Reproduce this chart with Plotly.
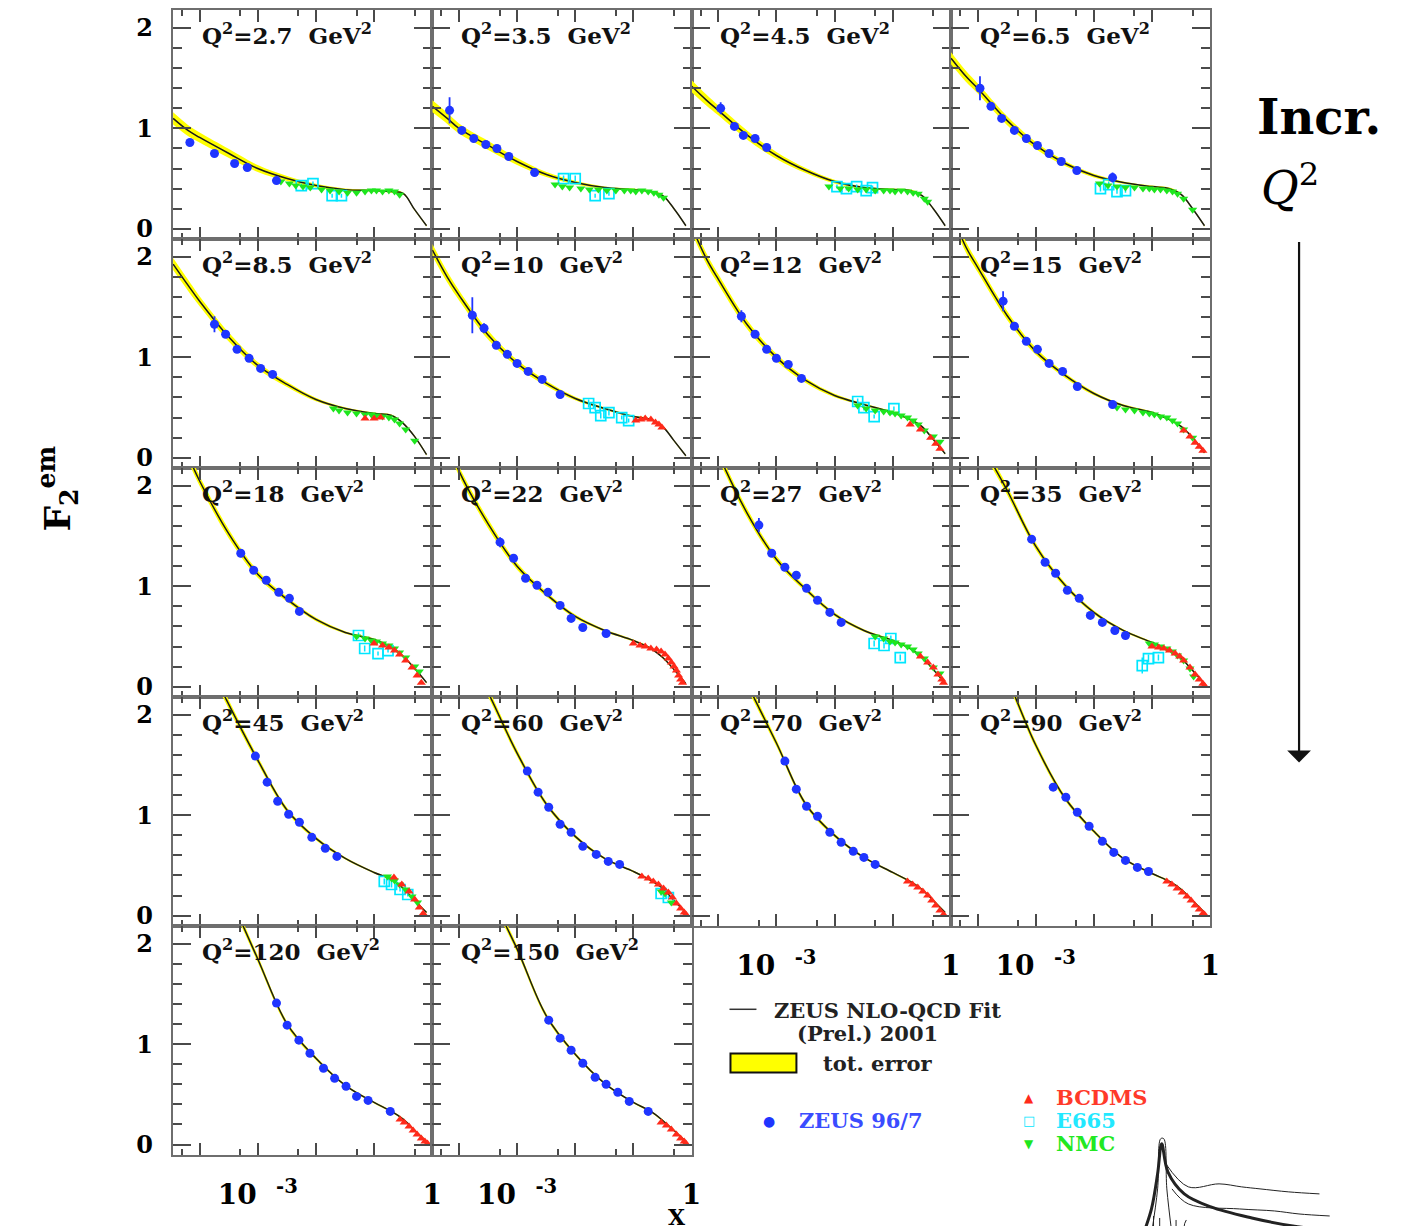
import plotly.graph_objects as go

# ---------------------------------------------------------------------------
# F2 structure-function data, one entry per Q^2 bin (GeV^2)
# ---------------------------------------------------------------------------
Q2_VALUES = ["2.7", "3.5", "4.5", "6.5", "8.5", "10", "12", "15", "18",
             "22", "27", "35", "45", "60", "70", "90", "120", "150"]

# x nodes at which the NLO-QCD fit is tabulated
FIT_X = [3.5e-5, 6.3e-5, 1e-4, 3.2e-4, 1e-3, 3.2e-3, 0.01, 0.032, 0.1, 0.2, 0.32, 0.5, 0.8]
# half-width of the total-error band at those nodes
FIT_ERR = [0.06, 0.055, 0.05, 0.045, 0.035, 0.025, 0.018, 0.012, 0.01, 0.01, 0.01, 0.01, 0.01]

FIT_F2 = [
    [1.10, 0.98, 0.91, 0.75, 0.60, 0.50, 0.43, 0.39, 0.38, 0.37, 0.35, 0.19, 0.03],
    [1.22, 1.10, 1.00, 0.83, 0.67, 0.54, 0.46, 0.41, 0.39, 0.37, 0.33, 0.20, 0.03],
    [1.42, 1.28, 1.18, 0.93, 0.73, 0.58, 0.47, 0.41, 0.39, 0.38, 0.33, 0.20, 0.03],
    [1.70, 1.52, 1.40, 1.08, 0.83, 0.65, 0.53, 0.46, 0.42, 0.40, 0.34, 0.20, 0.03],
    [1.93, 1.72, 1.56, 1.20, 0.92, 0.73, 0.58, 0.49, 0.44, 0.42, 0.34, 0.21, 0.03],
    [2.07, 1.80, 1.62, 1.22, 0.94, 0.74, 0.59, 0.49, 0.41, 0.38, 0.31, 0.17, 0.02],
    [2.30, 1.98, 1.78, 1.32, 1.00, 0.77, 0.62, 0.53, 0.45, 0.38, 0.31, 0.18, 0.04],
    [2.45, 2.10, 1.90, 1.42, 1.06, 0.82, 0.64, 0.52, 0.45, 0.38, 0.31, 0.20, 0.05],
    [2.60, 2.30, 2.05, 1.52, 1.12, 0.87, 0.67, 0.54, 0.47, 0.39, 0.30, 0.18, 0.04],
    [2.85, 2.45, 2.15, 1.62, 1.20, 0.92, 0.70, 0.56, 0.46, 0.38, 0.29, 0.17, 0.03],
    [3.00, 2.60, 2.32, 1.72, 1.27, 0.97, 0.72, 0.56, 0.46, 0.38, 0.29, 0.17, 0.03],
    [3.20, 2.80, 2.50, 1.96, 1.40, 1.01, 0.74, 0.56, 0.44, 0.36, 0.28, 0.16, 0.03],
    [3.40, 3.00, 2.70, 2.10, 1.55, 1.05, 0.77, 0.57, 0.43, 0.36, 0.27, 0.15, 0.03],
    [3.50, 3.10, 2.80, 2.22, 1.62, 1.11, 0.79, 0.57, 0.44, 0.35, 0.27, 0.15, 0.03],
    [3.60, 3.20, 2.90, 2.30, 1.72, 1.11, 0.80, 0.58, 0.43, 0.34, 0.26, 0.15, 0.03],
    [3.80, 3.40, 3.05, 2.38, 1.70, 1.17, 0.84, 0.57, 0.42, 0.34, 0.26, 0.15, 0.03],
    [4.00, 3.55, 3.20, 2.50, 1.85, 1.20, 0.86, 0.59, 0.42, 0.33, 0.25, 0.14, 0.03],
    [4.10, 3.65, 3.30, 2.55, 1.95, 1.28, 0.90, 0.61, 0.42, 0.33, 0.24, 0.14, 0.03],
]

# ZEUS 96/97
ZEUS_X = [
    [6.8e-5, 1.8e-4, 4.0e-4, 6.6e-4, 2.1e-3],
    [6.9e-5, 1.12e-4, 1.8e-4, 2.9e-4, 4.5e-4, 7.2e-4, 2.0e-3],
    [1.1e-4, 1.9e-4, 2.7e-4, 4.3e-4, 6.8e-4],
    [1.1e-4, 1.7e-4, 2.6e-4, 4.3e-4, 6.9e-4, 1.07e-3, 1.7e-3, 2.75e-3, 5.1e-3, 2.1e-2],
    [1.8e-4, 2.8e-4, 4.4e-4, 7.1e-4, 1.12e-3, 1.8e-3],
    [1.7e-4, 2.7e-4, 4.4e-4, 6.8e-4, 1.0e-3, 1.55e-3, 2.7e-3, 5.5e-3],
    [2.5e-4, 4.3e-4, 6.8e-4, 1.0e-3, 1.6e-3, 2.7e-3],
    [2.75e-4, 4.3e-4, 6.9e-4, 1.07e-3, 1.7e-3, 2.9e-3, 5.2e-3, 2.1e-2],
    [5.1e-4, 8.5e-4, 1.4e-3, 2.3e-3, 3.5e-3, 5.2e-3],
    [5.1e-4, 8.7e-4, 1.4e-3, 2.2e-3, 3.4e-3, 5.5e-3, 8.5e-3, 1.35e-2, 3.4e-2],
    [5.0e-4, 8.3e-4, 1.4e-3, 2.2e-3, 3.3e-3, 5.1e-3, 8.3e-3, 1.3e-2],
    [8.5e-4, 1.45e-3, 2.2e-3, 3.5e-3, 5.6e-3, 8.7e-3, 1.4e-2, 2.3e-2, 3.5e-2],
    [9.1e-4, 1.45e-3, 2.2e-3, 3.4e-3, 5.2e-3, 8.5e-3, 1.45e-2, 2.3e-2],
    [1.5e-3, 2.3e-3, 3.5e-3, 5.5e-3, 8.5e-3, 1.35e-2, 2.3e-2, 3.7e-2, 5.8e-2],
    [1.4e-3, 2.2e-3, 3.3e-3, 5.1e-3, 8.3e-3, 1.3e-2, 2.1e-2, 3.2e-2, 5.0e-2],
    [2.0e-3, 3.3e-3, 5.2e-3, 8.3e-3, 1.4e-2, 2.2e-2, 3.5e-2, 5.6e-2, 8.7e-2],
    [2.1e-3, 3.2e-3, 5.1e-3, 7.9e-3, 1.35e-2, 2.1e-2, 3.3e-2, 5.0e-2, 7.9e-2, 0.19],
    [3.5e-3, 5.5e-3, 8.5e-3, 1.35e-2, 2.2e-2, 3.4e-2, 5.4e-2, 8.5e-2, 0.18],
]
ZEUS_F2 = [
    [0.86, 0.75, 0.65, 0.61, 0.48],
    [1.18, 0.98, 0.90, 0.84, 0.80, 0.72, 0.56],
    [1.20, 1.02, 0.93, 0.90, 0.81],
    [1.40, 1.22, 1.10, 0.98, 0.90, 0.83, 0.75, 0.67, 0.58, 0.51],
    [1.33, 1.23, 1.08, 0.99, 0.89, 0.83],
    [1.42, 1.29, 1.12, 1.03, 0.94, 0.86, 0.78, 0.63],
    [1.41, 1.23, 1.08, 0.99, 0.93, 0.79],
    [1.56, 1.31, 1.16, 1.08, 0.94, 0.86, 0.71, 0.53],
    [1.33, 1.16, 1.06, 0.94, 0.88, 0.75],
    [1.44, 1.28, 1.08, 1.01, 0.94, 0.81, 0.68, 0.59, 0.53],
    [1.61, 1.33, 1.19, 1.11, 0.98, 0.86, 0.74, 0.64],
    [1.47, 1.24, 1.13, 0.96, 0.88, 0.71, 0.64, 0.56, 0.51],
    [1.59, 1.33, 1.14, 1.01, 0.93, 0.78, 0.67, 0.59],
    [1.44, 1.23, 1.08, 0.91, 0.83, 0.69, 0.61, 0.54, 0.51],
    [1.54, 1.26, 1.09, 0.99, 0.83, 0.73, 0.64, 0.58, 0.51],
    [1.28, 1.18, 1.03, 0.89, 0.74, 0.63, 0.55, 0.48, 0.44],
    [1.41, 1.19, 1.04, 0.91, 0.76, 0.66, 0.58, 0.48, 0.44, 0.33],
    [1.24, 1.06, 0.94, 0.81, 0.67, 0.60, 0.52, 0.43, 0.33],
]
ZEUS_ERR = [
    [0.03, 0.03, 0.03, 0.03, 0.03],
    [0.13, 0.03, 0.03, 0.03, 0.03, 0.03, 0.03],
    [0.06, 0.03, 0.03, 0.03, 0.03],
    [0.12, 0.04, 0.03, 0.03, 0.03, 0.03, 0.03, 0.03, 0.03, 0.05],
    [0.08, 0.03, 0.03, 0.03, 0.03, 0.03],
    [0.18, 0.05, 0.03, 0.03, 0.03, 0.03, 0.03, 0.03],
    [0.06, 0.03, 0.03, 0.03, 0.03, 0.03],
    [0.10, 0.03, 0.03, 0.03, 0.03, 0.03, 0.03, 0.03],
    [0.04, 0.03, 0.03, 0.03, 0.03, 0.03],
    [0.05, 0.03, 0.03, 0.03, 0.03, 0.03, 0.03, 0.03, 0.03],
    [0.07, 0.03, 0.03, 0.03, 0.03, 0.03, 0.03, 0.03],
    [0.04, 0.03, 0.03, 0.03, 0.03, 0.03, 0.03, 0.03, 0.03],
    [0.04, 0.03, 0.03, 0.03, 0.03, 0.03, 0.03, 0.03],
    [0.03, 0.03, 0.03, 0.03, 0.03, 0.03, 0.03, 0.03, 0.03],
    [0.03, 0.03, 0.03, 0.03, 0.03, 0.03, 0.03, 0.03, 0.03],
    [0.03, 0.03, 0.03, 0.03, 0.03, 0.03, 0.03, 0.03, 0.03],
    [0.03, 0.03, 0.03, 0.03, 0.03, 0.03, 0.03, 0.03, 0.03, 0.03],
    [0.03, 0.03, 0.03, 0.03, 0.03, 0.03, 0.03, 0.03, 0.03],
]

# NMC
NMC_X = [
    [0.0025, 0.0035, 0.0045, 0.006, 0.008, 0.0125, 0.0175, 0.025, 0.035, 0.05, 0.07, 0.09, 0.11, 0.14, 0.18, 0.225, 0.275],
    [0.0045, 0.006, 0.008, 0.0125, 0.0175, 0.025, 0.035, 0.05, 0.07, 0.09, 0.11, 0.14, 0.18, 0.225, 0.275, 0.33],
    [0.008, 0.0125, 0.0175, 0.025, 0.035, 0.05, 0.07, 0.09, 0.11, 0.14, 0.18, 0.225, 0.275, 0.35, 0.4],
    [0.0125, 0.0175, 0.025, 0.035, 0.05, 0.07, 0.09, 0.11, 0.14, 0.18, 0.225, 0.275, 0.35, 0.5],
    [0.02, 0.025, 0.035, 0.05, 0.07, 0.09, 0.11, 0.14, 0.18, 0.225, 0.275, 0.35, 0.5],
    [],
    [0.025, 0.035, 0.05, 0.07, 0.09, 0.11, 0.14, 0.18, 0.225, 0.275, 0.35, 0.5, 0.65],
    [0.025, 0.035, 0.05, 0.07, 0.09, 0.11, 0.14, 0.18, 0.225, 0.275, 0.35, 0.5],
    [0.05, 0.07, 0.09, 0.11, 0.14, 0.18, 0.225, 0.275, 0.35, 0.5, 0.6],
    [],
    [0.05, 0.07, 0.09, 0.11, 0.14, 0.18, 0.225, 0.275, 0.35, 0.5, 0.65],
    [0.09, 0.11, 0.14, 0.18, 0.225, 0.275, 0.35, 0.45, 0.52],
    [0.17, 0.2, 0.225, 0.275, 0.35, 0.45, 0.56],
    [0.3, 0.35, 0.45],
    [], [], [], [],
]
NMC_F2 = [
    [0.47, 0.45, 0.43, 0.42, 0.41, 0.39, 0.38, 0.37, 0.36, 0.36, 0.37, 0.38, 0.38, 0.37, 0.38, 0.37, 0.34],
    [0.44, 0.42, 0.41, 0.40, 0.39, 0.39, 0.38, 0.38, 0.38, 0.38, 0.37, 0.38, 0.37, 0.36, 0.34, 0.31],
    [0.42, 0.40, 0.40, 0.39, 0.39, 0.38, 0.38, 0.38, 0.37, 0.38, 0.37, 0.36, 0.35, 0.30, 0.27],
    [0.45, 0.43, 0.42, 0.41, 0.41, 0.40, 0.40, 0.39, 0.39, 0.38, 0.37, 0.35, 0.30, 0.19],
    [0.49, 0.47, 0.45, 0.44, 0.43, 0.43, 0.42, 0.41, 0.40, 0.38, 0.34, 0.28, 0.17],
    [],
    [0.52, 0.49, 0.47, 0.46, 0.45, 0.44, 0.42, 0.40, 0.37, 0.33, 0.27, 0.21, 0.16],
    [0.50, 0.48, 0.47, 0.45, 0.44, 0.43, 0.41, 0.40, 0.37, 0.34, 0.28, 0.20],
    [0.50, 0.48, 0.46, 0.45, 0.43, 0.41, 0.38, 0.34, 0.29, 0.20, 0.15],
    [],
    [0.50, 0.48, 0.45, 0.44, 0.42, 0.40, 0.37, 0.33, 0.28, 0.19, 0.13],
    [0.43, 0.42, 0.40, 0.38, 0.35, 0.31, 0.26, 0.18, 0.10],
    [0.39, 0.37, 0.35, 0.31, 0.26, 0.19, 0.13],
    [0.24, 0.22, 0.13],
    [], [], [], [],
]

# E665
E665_X = [
    [0.0056, 0.0089, 0.019, 0.0275],
    [0.0063, 0.010, 0.022, 0.038],
    [0.011, 0.016, 0.024, 0.035, 0.045],
    [0.013, 0.018, 0.025, 0.035],
    [],
    [0.017, 0.022, 0.0275, 0.038, 0.063, 0.083],
    [0.025, 0.032, 0.048, 0.105],
    [],
    [0.054, 0.069, 0.117, 0.174],
    [],
    [0.048, 0.071, 0.093, 0.135],
    [0.068, 0.087, 0.129],
    [0.15, 0.2, 0.28, 0.38],
    [0.3, 0.4],
    [], [], [], [],
]
E665_F2 = [
    [0.43, 0.45, 0.33, 0.33],
    [0.50, 0.50, 0.33, 0.35],
    [0.42, 0.40, 0.42, 0.38, 0.41],
    [0.40, 0.44, 0.37, 0.38],
    [],
    [0.54, 0.50, 0.42, 0.45, 0.40, 0.37],
    [0.56, 0.50, 0.41, 0.49],
    [],
    [0.51, 0.38, 0.33, 0.36],
    [],
    [0.43, 0.41, 0.48, 0.29],
    [0.21, 0.28, 0.29],
    [0.34, 0.31, 0.26, 0.21],
    [0.22, 0.18],
    [], [], [], [],
]
E665_ERR = [
    [0.02, 0.02, 0.02, 0.02],
    [0.03, 0.03, 0.02, 0.02],
    [0.02, 0.02, 0.02, 0.02, 0.02],
    [0.03, 0.03, 0.02, 0.02],
    [],
    [0.04, 0.03, 0.03, 0.03, 0.02, 0.02],
    [0.03, 0.03, 0.02, 0.02],
    [],
    [0.03, 0.03, 0.02, 0.02],
    [],
    [0.03, 0.03, 0.03, 0.03],
    [0.08, 0.04, 0.03],
    [0.03, 0.03, 0.02, 0.02],
    [0.02, 0.02],
    [], [], [], [],
]

# BCDMS
BCDMS_X = [
    [], [], [], [],
    [0.07, 0.1, 0.13],
    [0.11, 0.135, 0.16, 0.2, 0.24, 0.275, 0.31],
    [0.2, 0.3, 0.45, 0.55, 0.65],
    [0.35, 0.45, 0.55, 0.65, 0.75],
    [0.1, 0.14, 0.18, 0.225, 0.275, 0.35, 0.45, 0.55, 0.65],
    [0.1, 0.13, 0.16, 0.2, 0.25, 0.3, 0.35, 0.4, 0.45, 0.5, 0.55, 0.6, 0.65, 0.7],
    [0.3, 0.4, 0.5, 0.6, 0.7, 0.75],
    [0.1, 0.13, 0.16, 0.2, 0.25, 0.3, 0.35, 0.45, 0.55, 0.65, 0.75, 0.8],
    [0.22, 0.3, 0.4, 0.5, 0.6, 0.7],
    [0.14, 0.18, 0.22, 0.27, 0.33, 0.4, 0.47, 0.55, 0.65, 0.75, 0.8],
    [0.18, 0.22, 0.27, 0.33, 0.4, 0.47, 0.55, 0.65, 0.75],
    [0.18, 0.22, 0.27, 0.33, 0.4, 0.47, 0.55, 0.65, 0.75, 0.8],
    [0.28, 0.33, 0.4, 0.47, 0.55, 0.65, 0.75, 0.83],
    [0.3, 0.37, 0.45, 0.55, 0.65, 0.75, 0.8],
]
BCDMS_F2 = [
    [], [], [], [],
    [0.39, 0.39, 0.40],
    [0.37, 0.38, 0.39, 0.38, 0.35, 0.33, 0.30],
    [0.33, 0.28, 0.20, 0.14, 0.09],
    [0.27, 0.21, 0.15, 0.11, 0.07],
    [0.43, 0.41, 0.39, 0.36, 0.32, 0.26, 0.19, 0.11, 0.04],
    [0.43, 0.41, 0.40, 0.38, 0.37, 0.35, 0.32, 0.28, 0.24, 0.20, 0.16, 0.11, 0.07, 0.04],
    [0.30, 0.24, 0.19, 0.12, 0.07, 0.04],
    [0.40, 0.39, 0.38, 0.36, 0.33, 0.30, 0.26, 0.19, 0.12, 0.07, 0.03, 0.01],
    [0.38, 0.31, 0.24, 0.16, 0.08, 0.02],
    [0.39, 0.37, 0.34, 0.31, 0.27, 0.23, 0.18, 0.12, 0.07, 0.03, 0.01],
    [0.34, 0.31, 0.28, 0.24, 0.20, 0.15, 0.10, 0.05, 0.01],
    [0.34, 0.31, 0.27, 0.23, 0.19, 0.15, 0.10, 0.06, 0.02, 0.01],
    [0.25, 0.22, 0.18, 0.14, 0.10, 0.06, 0.03, 0.01],
    [0.22, 0.19, 0.15, 0.10, 0.06, 0.03, 0.01],
]

# axis ticks
X_MAJOR = [1e-4, 1e-3, 1e-2, 1e-1, 1.0]
X_MAJOR_TEXT = ["", "10  <sup>-3</sup>", "", "", "1"]
X_MINOR = [5e-5, 5e-4, 5e-3, 5e-2, 0.5]
Y_MAJOR = [0, 1, 2]
Y_MAJOR_TEXT = ["0", "1", "2"]

# small decorative sketch of F2 curves (bottom-right corner)
SKETCH_LINES = [
    ([0.02, 0.06, 0.09, 0.11, 0.14, 0.22, 0.35, 0.55, 0.75, 1.0],
     [0.00, 0.25, 0.60, 0.90, 0.62, 0.40, 0.27, 0.16, 0.08, 0.02], 3.0),
    ([0.06, 0.09, 0.105, 0.12, 0.135, 0.16],
     [0.00, 0.45, 0.95, 0.95, 0.45, 0.00], 1.0),
    ([0.13, 0.24, 0.39, 0.50, 0.59, 0.73, 0.88],
     [0.70, 0.47, 0.50, 0.47, 0.45, 0.42, 0.40], 1.0),
    ([0.16, 0.24, 0.49, 0.66, 0.78, 0.93],
     [0.45, 0.30, 0.25, 0.23, 0.20, 0.18], 1.0),
    ([0.07, 0.07], [0.0, 0.18], 1.0),
    ([0.10, 0.10], [0.0, 0.16], 1.0),
    ([0.18, 0.18], [0.0, 0.14], 1.0),
    ([0.24, 0.22, 0.23], [0.0, 0.08, 0.14], 1.0),
]

# ---------------------------------------------------------------------------
# layout geometry
# ---------------------------------------------------------------------------
W, H = 1405, 1230          # figure size
W_REF, H_REF = 1396, 1222  # extent of the drawing coordinates below
LEFT0, PANEL_W = 173.0, 259.5
TOP0, PANEL_H = 10.0, 228.2
X_RANGE = [-4.46, 0.0]
Y_RANGE = [-0.102, 2.18]

SERIF = "DejaVu Serif"
FRAME = "#6e6e6e"
TICKC = "#4a4a4a"
BLUE = "#1f35ff"
GREEN = "#1ee61e"
CYAN = "#00e6ff"
RED = "#ff2a1a"
YELLOW = "#ffff00"


def px(x):
    return min(1.0, max(0.0, x / W_REF))


def py(y):
    return min(1.0, max(0.0, 1 - y / H_REF))


fig = go.Figure()
layout_axes = {}
annotations = []

for i, q2 in enumerate(Q2_VALUES):
    row, col = divmod(i, 4)
    n = "" if i == 0 else str(i + 1)
    xa, ya = "x" + n, "y" + n
    x0 = LEFT0 + col * PANEL_W
    y0 = TOP0 + row * PANEL_H

    show_x_labels = (row == 4) or (row == 3 and col >= 2)
    show_y_labels = col == 0

    layout_axes["xaxis" + n] = dict(
        type="log", range=X_RANGE, domain=[px(x0), px(x0 + PANEL_W)], anchor=ya,
        showline=True, linecolor=FRAME, linewidth=2, mirror="allticks",
        ticks="inside", ticklen=12, tickwidth=1.5, tickcolor=TICKC,
        tickmode="array", tickvals=X_MAJOR, ticktext=X_MAJOR_TEXT,
        showticklabels=show_x_labels, ticklabelstandoff=14,
        tickfont=dict(family=SERIF, size=28, color="black", weight="bold"),
        minor=dict(tickmode="array", tickvals=X_MINOR, ticks="inside",
                   ticklen=6, tickwidth=1.5, tickcolor=TICKC),
        showgrid=False, zeroline=False, fixedrange=True,
    )
    layout_axes["yaxis" + n] = dict(
        range=Y_RANGE, domain=[py(y0 + PANEL_H), py(y0)], anchor=xa,
        showline=True, linecolor=FRAME, linewidth=2, mirror="allticks",
        ticks="inside", ticklen=18, tickwidth=1.5, tickcolor=TICKC,
        tickmode="array", tickvals=Y_MAJOR, ticktext=Y_MAJOR_TEXT,
        showticklabels=show_y_labels, ticklabelstandoff=13,
        tickfont=dict(family=SERIF, size=24, color="black", weight="bold"),
        minor=dict(dtick=0.2, tick0=0, ticks="inside", ticklen=9,
                   tickwidth=1.5, tickcolor=TICKC),
        showgrid=False, zeroline=False, fixedrange=True,
    )

    # total-error band around the fit
    lo = [f - e for f, e in zip(FIT_F2[i], FIT_ERR)]
    hi = [f + e for f, e in zip(FIT_F2[i], FIT_ERR)]
    fig.add_trace(go.Scatter(x=FIT_X, y=lo, mode="lines", line=dict(width=0, shape="spline"),
                             xaxis=xa, yaxis=ya, showlegend=False, hoverinfo="skip"))
    fig.add_trace(go.Scatter(x=FIT_X, y=hi, mode="lines", line=dict(width=0, shape="spline"),
                             fill="tonexty", fillcolor=YELLOW,
                             xaxis=xa, yaxis=ya, showlegend=False, hoverinfo="skip"))
    # NLO-QCD fit
    fig.add_trace(go.Scatter(x=FIT_X, y=FIT_F2[i], mode="lines",
                             line=dict(color="#1a1a1a", width=1.5, shape="spline"),
                             xaxis=xa, yaxis=ya, showlegend=False))

    if E665_X[i]:
        fig.add_trace(go.Scatter(
            x=E665_X[i], y=E665_F2[i], mode="markers", xaxis=xa, yaxis=ya, showlegend=False,
            marker=dict(symbol="square-open", size=10, color=CYAN, line=dict(width=1.7, color=CYAN)),
            error_y=dict(type="data", array=E665_ERR[i], color=CYAN, thickness=1.5, width=0)))
    if NMC_X[i]:
        fig.add_trace(go.Scatter(
            x=NMC_X[i], y=NMC_F2[i], mode="markers", xaxis=xa, yaxis=ya, showlegend=False,
            marker=dict(symbol="triangle-down", size=8, color=GREEN)))
    if BCDMS_X[i]:
        fig.add_trace(go.Scatter(
            x=BCDMS_X[i], y=BCDMS_F2[i], mode="markers", xaxis=xa, yaxis=ya, showlegend=False,
            marker=dict(symbol="triangle-up", size=8, color=RED)))
    fig.add_trace(go.Scatter(
        x=ZEUS_X[i], y=ZEUS_F2[i], mode="markers", xaxis=xa, yaxis=ya, showlegend=False,
        marker=dict(symbol="circle", size=9, color=BLUE),
        error_y=dict(type="data", array=ZEUS_ERR[i], color=BLUE, thickness=1.8, width=0)))

    annotations.append(dict(
        x=px(x0 + 27), y=py(y0 + 24), xanchor="left",
        text="Q<sup>2</sup>=" + q2 + "  GeV<sup>2</sup>",
        font=dict(family=SERIF, size=23, color="#111111", weight="bold")))

# decorative sketch axes (bottom edge of the page cuts it off)
layout_axes["xaxis19"] = dict(domain=[px(1140), px(1345)], range=[0, 1], anchor="y19",
                              visible=False, fixedrange=True)
layout_axes["yaxis19"] = dict(domain=[0, py(1130)], range=[0.08, 1], anchor="x19",
                              visible=False, fixedrange=True)
for sx, sy, lw in SKETCH_LINES:
    fig.add_trace(go.Scatter(x=sx, y=sy, mode="lines", xaxis="x19", yaxis="y19",
                             line=dict(color="#222222", width=lw, shape="spline"),
                             showlegend=False, hoverinfo="skip"))

# axis titles and side labels
annotations += [
    dict(x=px(58), y=py(487), text="F<sub>2</sub><sup>em</sup>", textangle=-90,
         font=dict(family=SERIF, size=36, color="black", weight="bold")),
    dict(x=px(677), y=py(1213), text="X",
         font=dict(family=SERIF, size=22, color="black", weight="bold")),
    dict(x=px(1320), y=py(117), text="Incr.",
         font=dict(family=SERIF, size=48, color="black", weight="bold")),
    dict(x=px(1291), y=py(184), text="<i>Q</i><sup>2</sup>",
         font=dict(family=SERIF, size=46, color="black")),
]

# legend block
LEG_FONT = dict(family=SERIF, size=21, weight="bold")
annotations += [
    dict(x=px(773), y=py(1007), xanchor="left", text="ZEUS NLO-QCD Fit",
         font=dict(color="#222222", **LEG_FONT)),
    dict(x=px(796), y=py(1030), xanchor="left", text="(Prel.) 2001",
         font=dict(color="#222222", **LEG_FONT)),
    dict(x=px(822), y=py(1060), xanchor="left", text="tot. error",
         font=dict(color="#222222", **LEG_FONT)),
    dict(x=px(770), y=py(1117), text="●", font=dict(family="DejaVu Sans", size=14, color=BLUE)),
    dict(x=px(798), y=py(1117), xanchor="left", text="ZEUS 96/7",
         font=dict(color="#3a4cff", **LEG_FONT)),
    dict(x=px(1030), y=py(1094), text="▲", font=dict(family="DejaVu Sans", size=12, color=RED)),
    dict(x=px(1055), y=py(1094), xanchor="left", text="BCDMS",
         font=dict(color="#ff3a2a", **LEG_FONT)),
    dict(x=px(1030), y=py(1117), text="□", font=dict(family="DejaVu Sans", size=13, color=CYAN)),
    dict(x=px(1055), y=py(1117), xanchor="left", text="E665",
         font=dict(color="#22e8ff", **LEG_FONT)),
    dict(x=px(1030), y=py(1140), text="▼", font=dict(family="DejaVu Sans", size=12, color=GREEN)),
    dict(x=px(1055), y=py(1140), xanchor="left", text="NMC",
         font=dict(color="#22e822", **LEG_FONT)),
    # direction of increasing Q^2
    dict(x=px(1300), y=py(760), ax=0, ay=-522, text="", showarrow=True,
         arrowhead=1, arrowsize=1.8, arrowwidth=2.2, arrowcolor="#111111", standoff=0),
]
for a in annotations:
    a.setdefault("xref", "paper")
    a.setdefault("yref", "paper")
    a.setdefault("xanchor", "center")
    a.setdefault("yanchor", "middle")
    a.setdefault("showarrow", False)

shapes = [
    dict(type="line", xref="paper", yref="paper", x0=px(730), x1=px(757),
         y0=py(1006), y1=py(1006), line=dict(color="#333333", width=1.5)),
    dict(type="rect", xref="paper", yref="paper", x0=px(731), x1=px(797),
         y0=py(1069), y1=py(1050), fillcolor=YELLOW, line=dict(color="#111111", width=2)),
]

fig.update_layout(
    width=W, height=H, autosize=False,
    margin=dict(l=0, r=0, t=0, b=0),
    paper_bgcolor="white", plot_bgcolor="white",
    showlegend=False,
    annotations=annotations, shapes=shapes,
    **layout_axes,
)

fig.write_html("out.html")
